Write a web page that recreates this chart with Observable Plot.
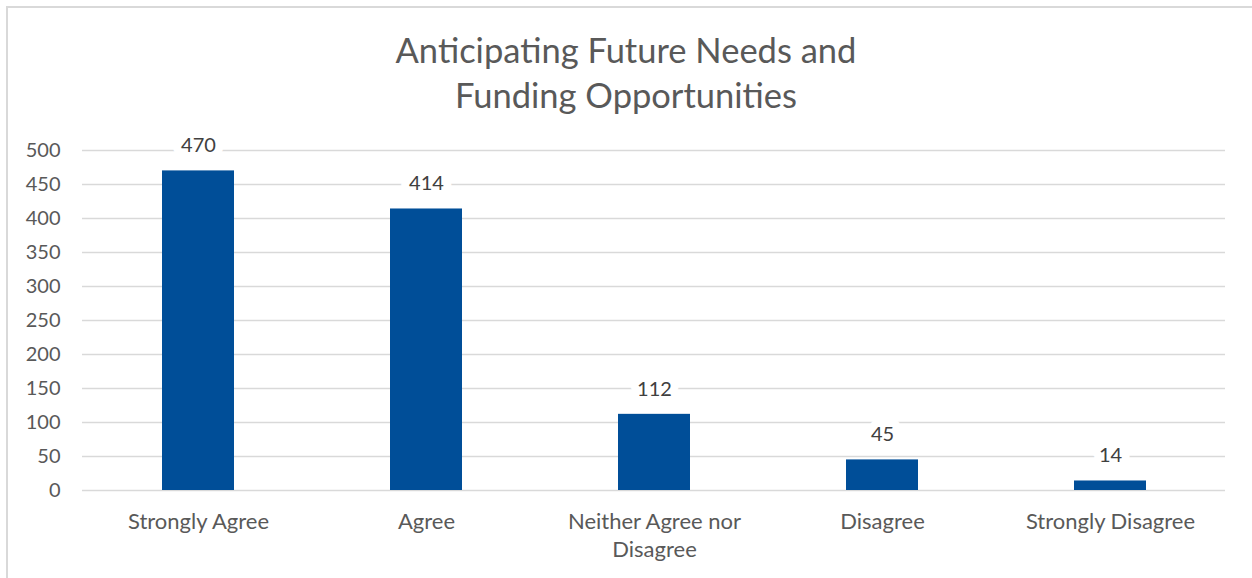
<!DOCTYPE html>
<html>
<head>
<meta charset="utf-8">
<script src="https://cdn.jsdelivr.net/npm/d3@7"></script>
<script src="https://cdn.jsdelivr.net/npm/@observablehq/plot@0.6"></script>
<style>
  html, body { margin: 0; padding: 0; background: #fff; }
  #frame { position: absolute; left: 6px; top: 6px; width: 1260px; height: 590px; border-left: 2px solid #d9d9d9; border-top: 2px solid #d9d9d9; box-sizing: border-box; }
  #wrap { position: absolute; left: 0; top: 0; width: 1252px; height: 578px; }
  #title { height: 120px; text-align: center; font-family: Lato, "Open Sans", sans-serif; font-size: 34.5px; color: #595959; line-height: 45px; padding-top: 27px; box-sizing: border-box; }
  svg { display: block; }
</style>
</head>
<body>
<div id="frame"></div>
<div id="wrap">
  <div id="title">Anticipating Future Needs and<br>Funding Opportunities</div>
  <div id="chart"></div>
</div>
<script>
const categories = ["Strongly Agree", "Agree", "Neither Agree nor Disagree", "Disagree", "Strongly Disagree"];
const categoryLabels = ["Strongly Agree", "Agree", "Neither Agree nor\nDisagree", "Disagree", "Strongly Disagree"];
const counts = [470, 414, 112, 45, 14];
const yTicks = [0, 50, 100, 150, 200, 250, 300, 350, 400, 450, 500];

const data = categories.map((c, i) => ({category: c, count: counts[i]}));
const labelOf = new Map(categories.map((c, i) => [c, categoryLabels[i]]));

const chart = Plot.plot({
  width: 1252,
  height: 458,
  marginTop: 30,
  marginBottom: 88,
  marginLeft: 82,
  marginRight: 27,
  style: {fontFamily: "Lato, 'Open Sans', sans-serif", fontSize: "20px", color: "#595959", background: "transparent"},
  x: {domain: categories, paddingInner: 0.685, paddingOuter: 0.3425, label: null},
  y: {domain: [0, 500], label: null},
  marks: [
    Plot.gridY(yTicks, {stroke: "#d9d9d9", strokeOpacity: 1, strokeWidth: 1.5}),
    Plot.axisY(yTicks, {tickSize: 0, tickPadding: 22, fontSize: 20, fill: "#595959", label: null}),
    Plot.axisX({tickSize: 0, tickPadding: 19, fontSize: 22, fill: "#595959", lineHeight: 1.27, tickFormat: d => labelOf.get(d), label: null}),
    Plot.barY(data, {x: "category", y: "count", fill: "#004e98"}),
    Plot.text(data, {x: "category", y: "count", text: d => String(d.count), dy: -25, fontSize: 20, fill: "#404040", stroke: "white", strokeWidth: 16, paintOrder: "stroke", lineAnchor: "middle"})
  ]
});
document.getElementById("chart").appendChild(chart);
</script>
</body>
</html>
